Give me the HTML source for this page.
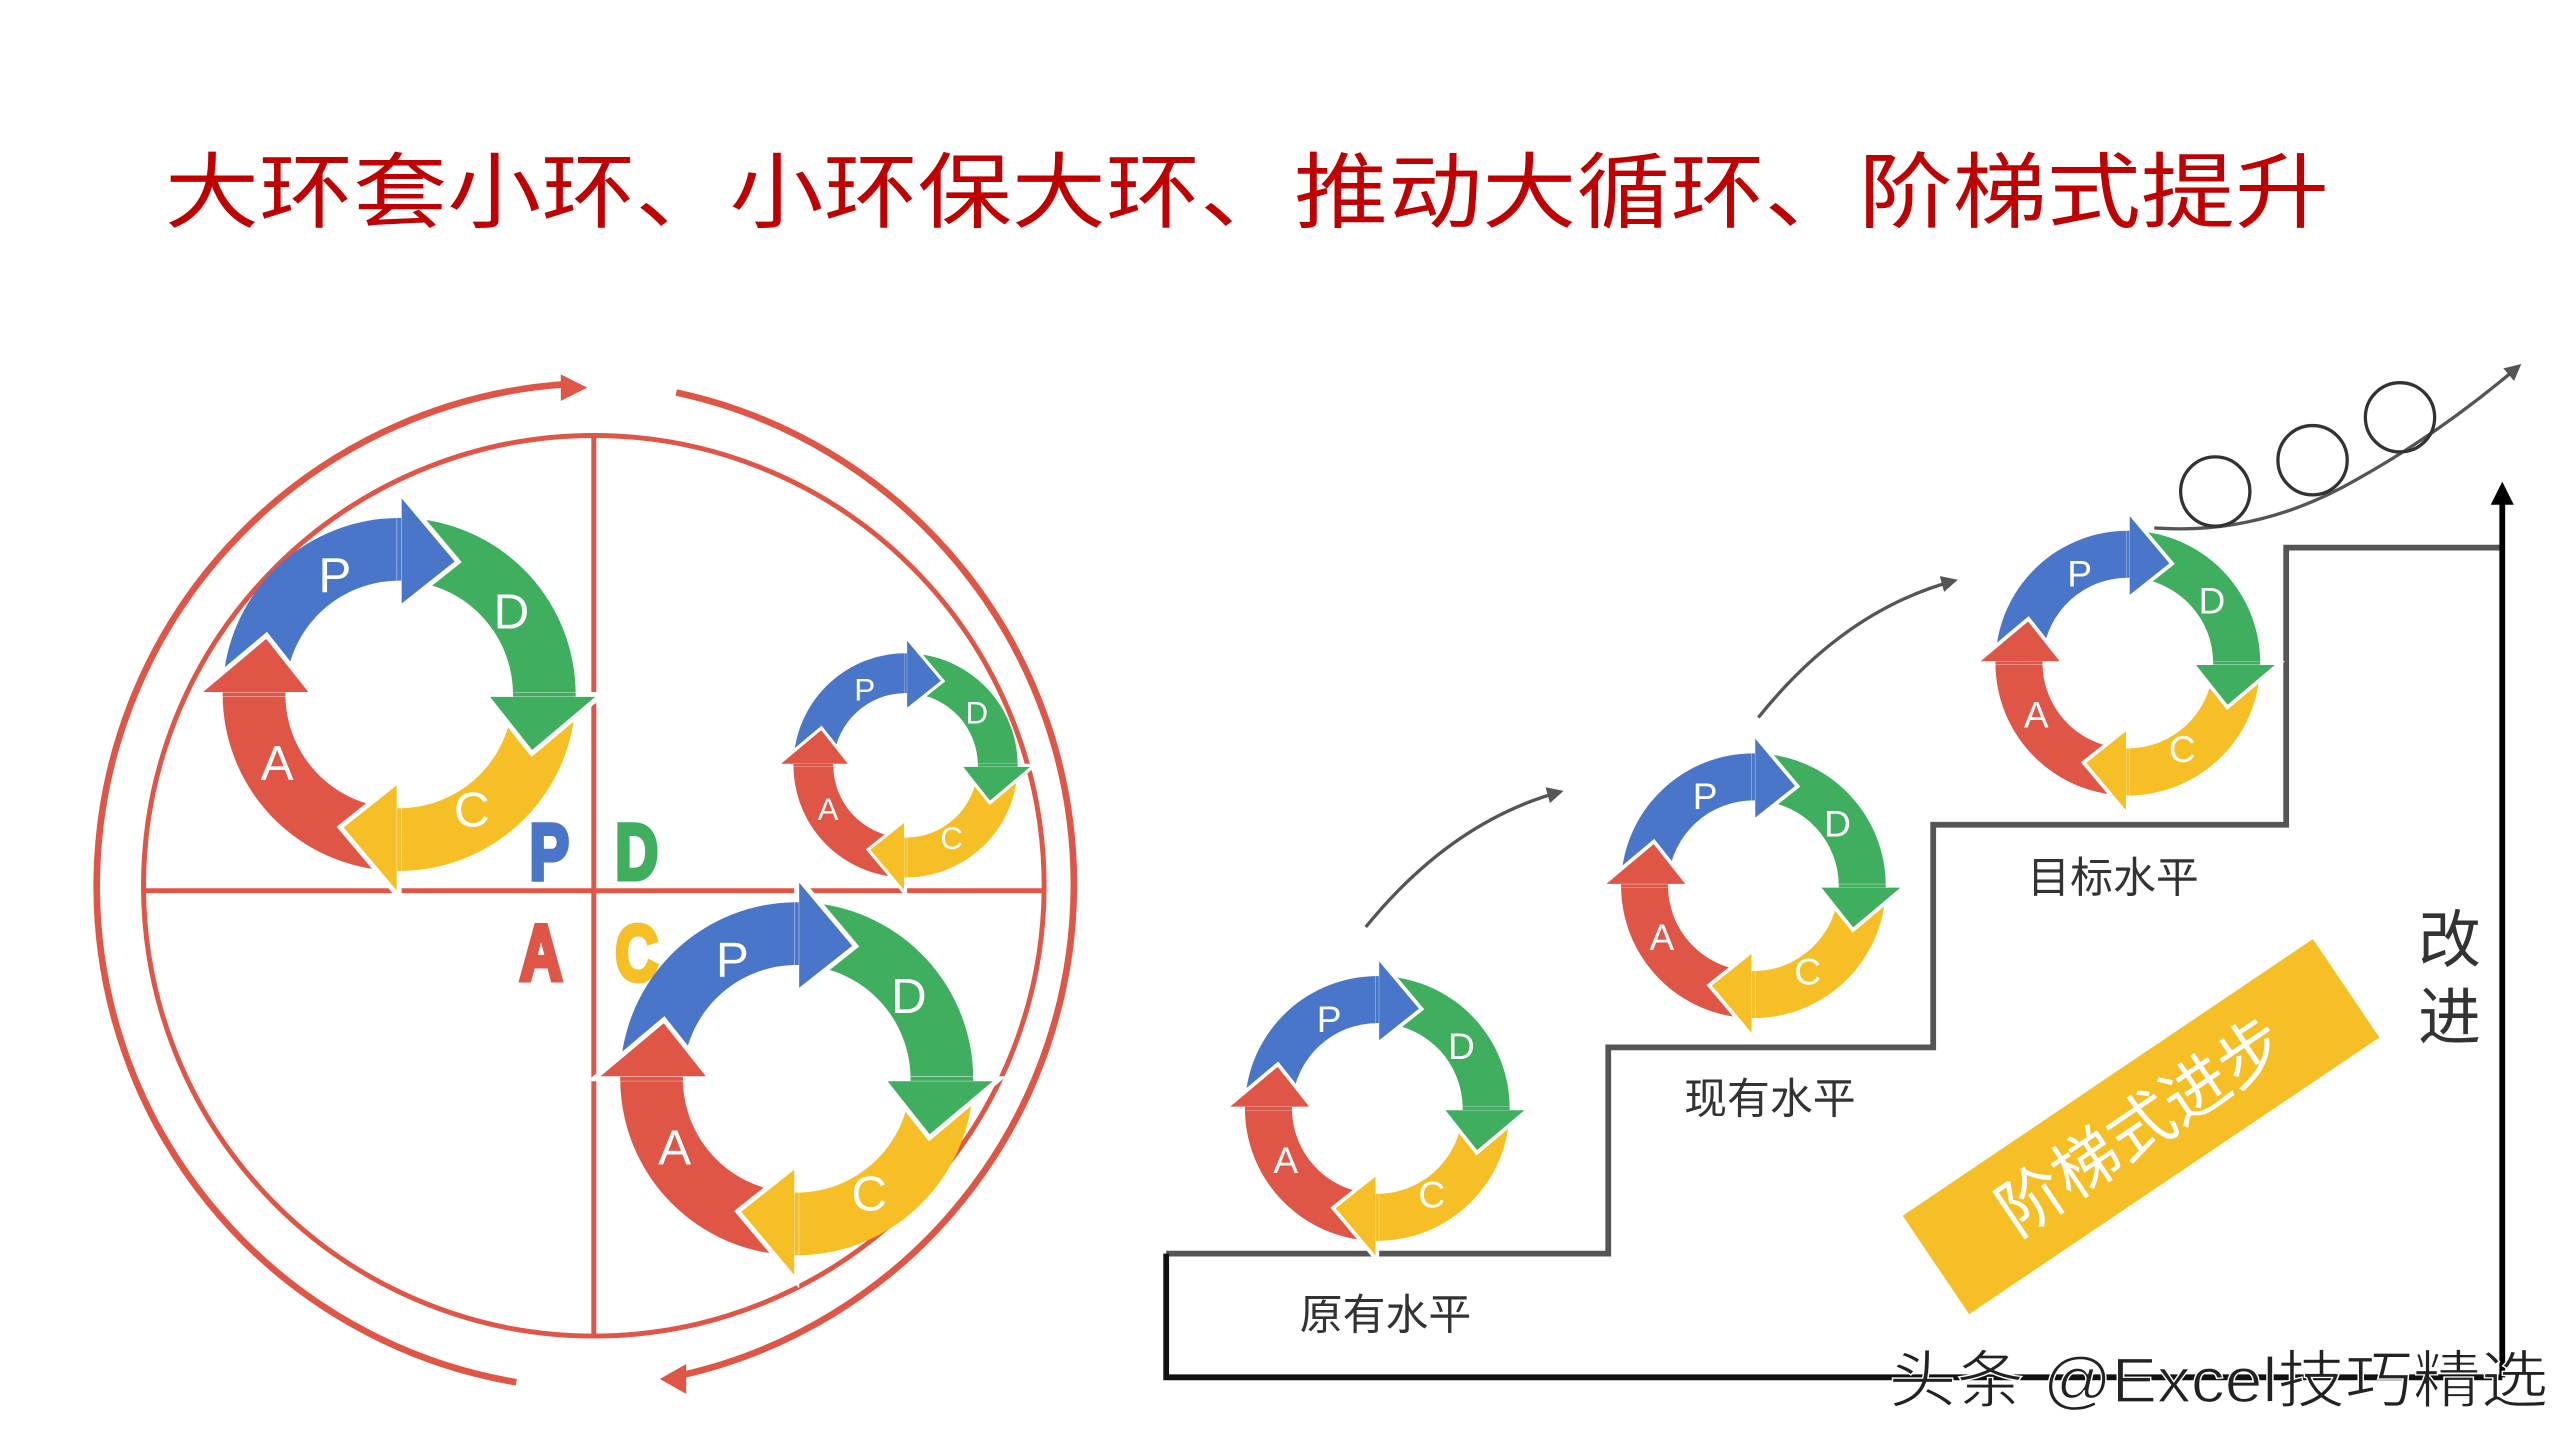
<!DOCTYPE html>
<html><head><meta charset="utf-8"><style>
html,body{margin:0;padding:0;background:#fff;}
svg{display:block;}
text{font-family:"Liberation Sans","Noto Sans CJK SC",sans-serif;}
</style></head><body>
<svg width="2560" height="1440" viewBox="0 0 1552 873" xmlns="http://www.w3.org/2000/svg">
<defs>
<path id="body" d="M-106.6,-9.3 A107,107 0 0 1 0,-107 L0,-69 A69,69 0 0 0 -68.7,-6 Z"/>
<path id="head" d="M0,-123 L35.8,-80.4 L0,-52 Z" stroke="#fff" stroke-width="3" stroke-linejoin="miter"/>
<g id="ring">
<use href="#body" fill="#4a76c9"/>
<use href="#body" fill="#3fae5e" transform="rotate(90)"/>
<use href="#body" fill="#f5bf25" transform="rotate(180)"/>
<use href="#body" fill="#df5546" transform="rotate(270)"/>
<use href="#head" fill="#4a76c9"/>
<use href="#head" fill="#3fae5e" transform="rotate(90)"/>
<use href="#head" fill="#f5bf25" transform="rotate(180)"/>
<use href="#head" fill="#df5546" transform="rotate(270)"/>
<path d="M0,-107 L0,-69" stroke="#4a76c9" stroke-width="2.5"/>
<path d="M107,0 L69,0" stroke="#3fae5e" stroke-width="2.5"/>
<path d="M0,107 L0,69" stroke="#f5bf25" stroke-width="2.5"/>
<path d="M-107,0 L-69,0" stroke="#df5546" stroke-width="2.5"/>
</g>
<marker id="ga" viewBox="0 0 10 10" refX="8" refY="5" markerWidth="5" markerHeight="5" orient="auto"><path d="M0,0 L10,5 L0,10 Z" fill="#555"/></marker>
</defs>

<text x="100" y="134" font-size="50" fill="#c00000" textLength="1312" lengthAdjust="spacingAndGlyphs">大环套小环、小环保大环、推动大循环、阶梯式提升</text>

<g stroke="#df5546" fill="none" stroke-width="3">
<circle cx="360" cy="537" r="273"/>
<line x1="87" y1="540" x2="633" y2="540"/>
<line x1="360" y1="264" x2="360" y2="810"/>
</g>
<g stroke="#df5546" fill="none" stroke-width="4">
<path d="M313,838 A305,305 0 0 1 342,233"/>
<path d="M410,238 A305,305 0 0 1 412,834"/>
</g>
<path d="M340,227 L356,235 L340,243 Z" fill="#df5546"/>
<path d="M416,827 L400,836 L416,845 Z" fill="#df5546"/>

<g font-size="48" font-weight="bold" stroke-width="3">
<text transform="translate(333,533) scale(0.75,1)" text-anchor="middle" fill="#4a76c9" stroke="#4a76c9">P</text>
<text transform="translate(386,533) scale(0.75,1)" text-anchor="middle" fill="#3fae5e" stroke="#3fae5e">D</text>
<text transform="translate(328,594) scale(0.75,1)" text-anchor="middle" fill="#df5546" stroke="#df5546">A</text>
<text transform="translate(386,594) scale(0.75,1)" text-anchor="middle" fill="#f5bf25" stroke="#f5bf25">C</text>
</g>

<g transform="translate(242,421)">
<use href="#ring"/>
<g fill="#fff" font-size="30" text-anchor="middle"><text x="-39" y="-62">P</text><text x="68" y="-40">D</text><text x="44" y="80">C</text><text x="-74" y="52">A</text></g>
</g>
<g transform="translate(549,464) scale(0.635)">
<use href="#ring"/>
<g fill="#fff" font-size="30" text-anchor="middle"><text x="-39" y="-62">P</text><text x="68" y="-40">D</text><text x="44" y="80">C</text><text x="-74" y="52">A</text></g>
</g>
<g transform="translate(483,654)">
<use href="#ring"/>
<g fill="#fff" font-size="30" text-anchor="middle"><text x="-39" y="-62">P</text><text x="68" y="-40">D</text><text x="44" y="80">C</text><text x="-74" y="52">A</text></g>
</g>

<path d="M707,760 L975,760 L975,635 L1172,635 L1172,500 L1386,500 L1386,332 L1517,332" fill="none" stroke="#555" stroke-width="3.5"/>
<path d="M707,760 L707,835 L1517,835" fill="none" stroke="#111" stroke-width="3.5"/>
<line x1="1517" y1="835" x2="1517" y2="305" stroke="#000" stroke-width="3.5"/>
<path d="M1510,306 L1517,292 L1524,306 Z" fill="#000"/>

<g transform="translate(835,672) scale(0.75)">
<use href="#ring"/>
<g fill="#fff" font-size="30" text-anchor="middle"><text x="-39" y="-62">P</text><text x="68" y="-40">D</text><text x="44" y="80">C</text><text x="-74" y="52">A</text></g>
</g>
<g transform="translate(1063,537) scale(0.75)">
<use href="#ring"/>
<g fill="#fff" font-size="30" text-anchor="middle"><text x="-39" y="-62">P</text><text x="68" y="-40">D</text><text x="44" y="80">C</text><text x="-74" y="52">A</text></g>
</g>
<g transform="translate(1290,402) scale(0.75)">
<use href="#ring"/>
<g fill="#fff" font-size="30" text-anchor="middle"><text x="-39" y="-62">P</text><text x="68" y="-40">D</text><text x="44" y="80">C</text><text x="-74" y="52">A</text></g>
</g>

<g fill="#333" font-size="26" text-anchor="middle">
<text x="840" y="806">原有水平</text>
<text x="1073" y="675">现有水平</text>
<text x="1281" y="541">目标水平</text>
</g>
<g fill="#333" font-size="38" text-anchor="middle">
<text x="1485" y="583">改</text>
<text x="1485" y="630">进</text>
</g>

<g transform="translate(1298,683) rotate(-34)">
<rect x="-150" y="-36" width="300" height="72" fill="#f5bf25"/>
<text x="0" y="14" font-size="40" fill="#fff" text-anchor="middle">阶梯式进步</text>
</g>

<g fill="none" stroke="#555" stroke-width="2">
<path d="M828,562 Q880,498 946,480" marker-end="url(#ga)"/>
<path d="M1066,435 Q1118,370 1185,352" marker-end="url(#ga)"/>
<path d="M1306,320 Q1370,325 1430,290 Q1480,262 1527,222" marker-end="url(#ga)"/>
</g>
<g fill="none" stroke="#333" stroke-width="2">
<circle cx="1343" cy="298" r="21"/>
<circle cx="1402" cy="279" r="21"/>
<circle cx="1455" cy="253" r="21"/>
</g>

<text x="1145" y="850" font-size="38" fill="#222" stroke="#fff" stroke-width="0.8" textLength="400" lengthAdjust="spacingAndGlyphs">头条 @Excel技巧精选</text>
</svg>
</body></html>
